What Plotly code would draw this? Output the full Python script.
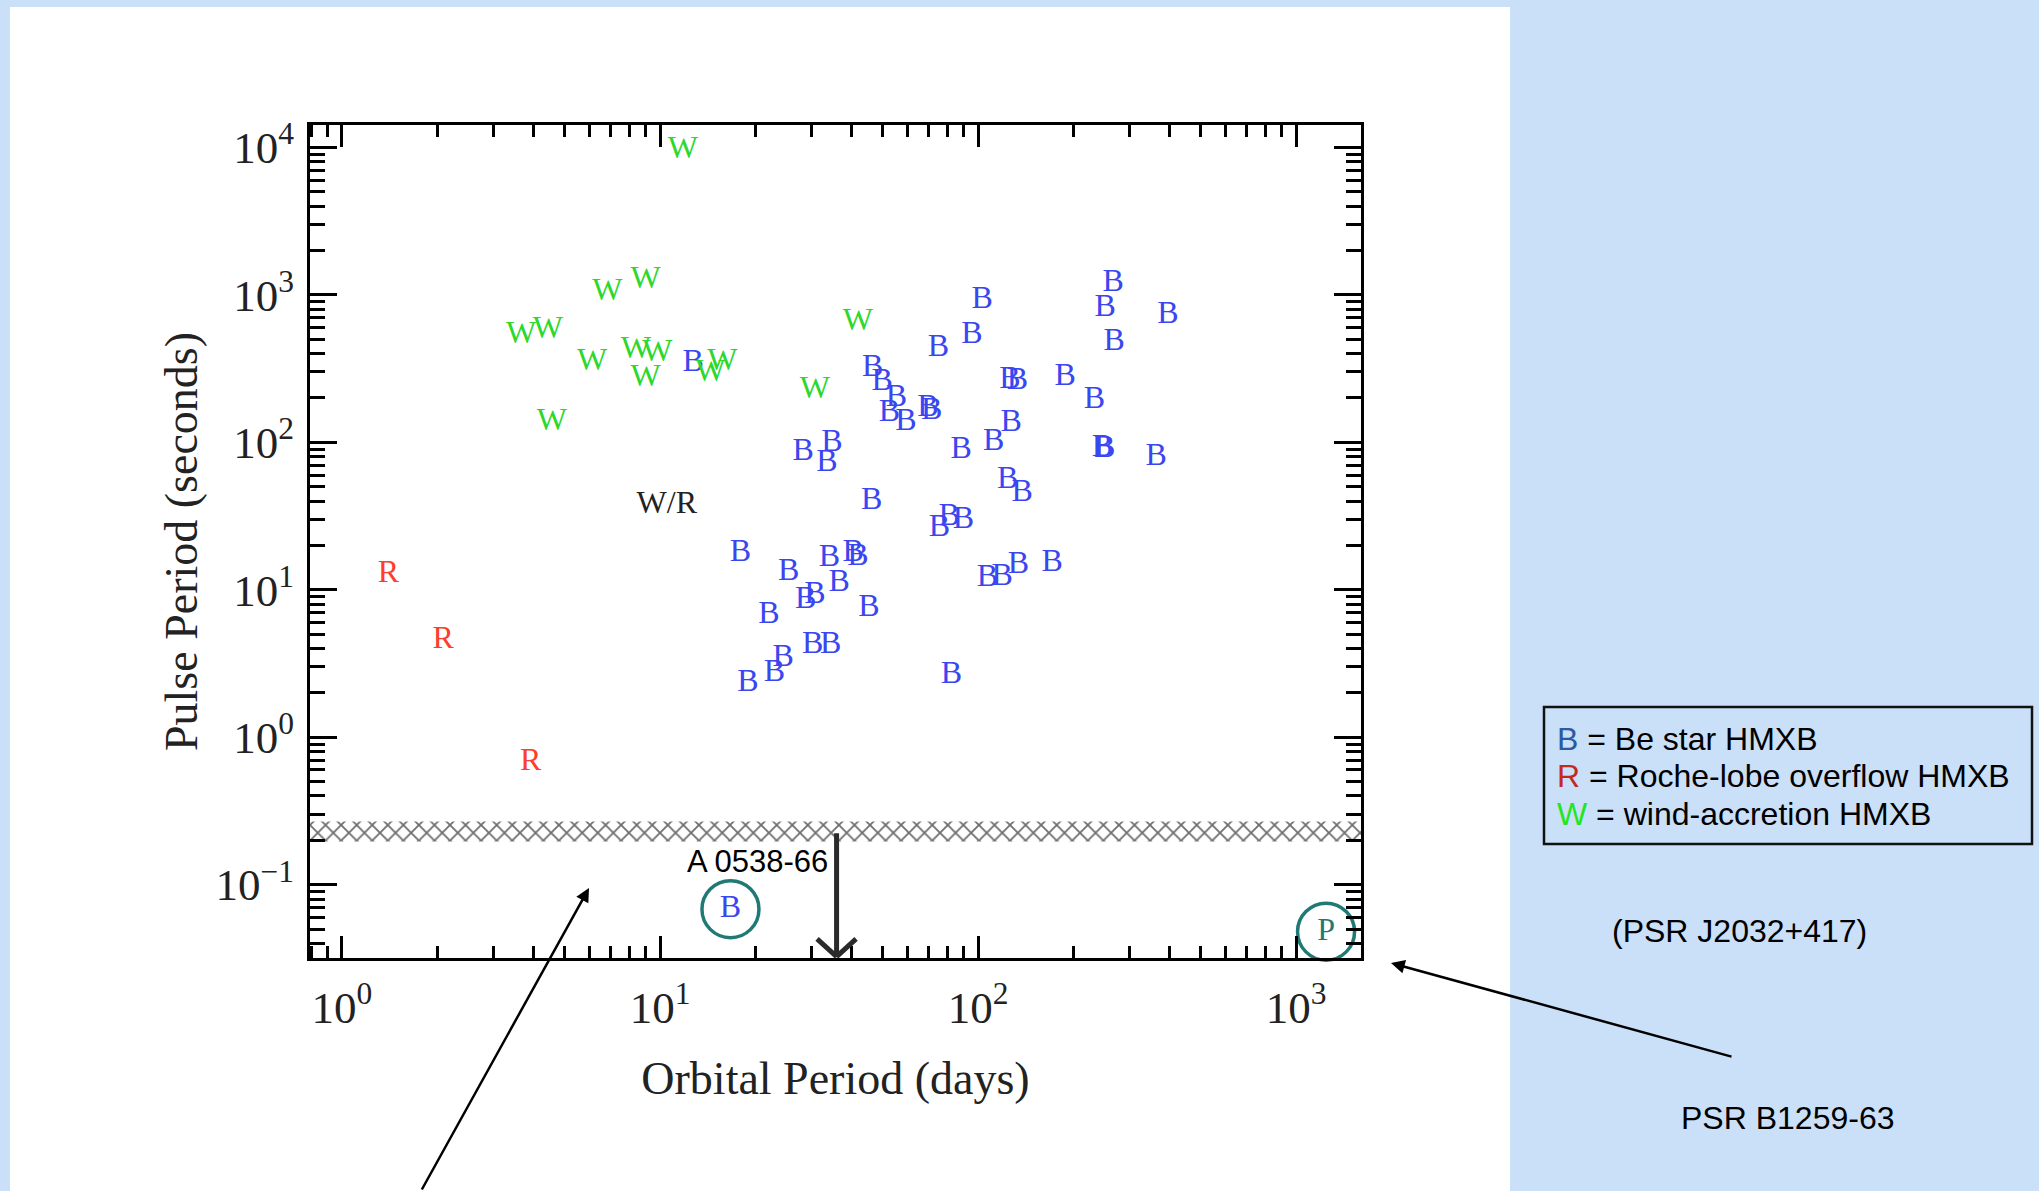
import numpy as np
import plotly.graph_objects as go

# ---------------- data ----------------
# Be-star HMXBs ("B"): orbital period (days), pulse period (s)
be_porb = [266, 103, 251, 395, 95.7, 75.1, 268, 12.7, 46.6, 49.9, 55.4, 52.6, 59.3,
           69.5, 71.5, 126, 133, 188, 232, 127, 112, 88.4, 246, 250, 363, 28.2, 34.7,
           33.5, 124, 137.5, 46.3, 75.6, 81.1, 89.9, 17.9, 25.4, 34.1, 40.5, 41.9, 36.6,
           28.7, 30.7, 45.4, 22.0, 107, 119, 134, 171, 30.2, 34.4, 24.4, 22.9, 18.9, 82.4]
be_pspin = [1200, 922, 810, 730, 534, 434, 481, 343, 318, 258, 199, 157, 138,
            170, 162, 265, 260, 278, 194, 135, 101, 88.7, 92, 90, 80, 86.4, 98.4,
            72, 55.5, 45.1, 40.2, 26.1, 31.3, 29.7, 17.7, 13.3, 16.4, 17.8, 16.7, 11.1,
            8.5, 9.2, 7.5, 6.75, 12.0, 12.3, 14.7, 15.1, 4.22, 4.22, 3.43, 2.72, 2.32, 2.65]

# wind-accretion HMXBs ("W")
w_porb = [11.8, 6.83, 9.0, 3.66, 4.44, 6.11, 8.4, 9.8, 9.0, 14.4, 15.7, 4.57, 41.9, 30.7]
w_pspin = [9600, 1050, 1260, 534, 577, 352, 423, 401, 272, 294, 352, 138, 657, 226]

# Roche-lobe overflow HMXBs ("R")
r_porb = [1.40, 2.08, 3.92]
r_pspin = [12.8, 4.57, 0.683]

# circled special systems
special_names = ["A 0538-66", "PSR B1259-63"]
special_letters = ["B", "P"]
special_porb = [16.65, 1242]
special_pspin = [0.0682, 0.048]

# "W/R" label position
wr_porb, wr_pspin = 10.5, 37.6

# hatched band (pulse period limits, s)
band_low, band_high = 0.196, 0.268
# A 0538-66 arrow (orbital period, from-band value)
arrow_porb, arrow_top = 35.9, 0.229
label_a0538_pos = (20.2, 0.1427)

# axes
x_range_log = [-0.1006, 3.204]
y_range_log = [-1.497, 4.152]
x_tickvals = [1, 10, 100, 1000]
x_ticktext = ["10<sup>0</sup>", "10<sup>1</sup>", "10<sup>2</sup>", "10<sup>3</sup>"]
y_tickvals = [0.1, 1, 10, 100, 1000, 10000]
y_ticktext = ["10<sup>\u22121</sup>", "10<sup>0</sup>", "10<sup>1</sup>",
              "10<sup>2</sup>", "10<sup>3</sup>", "10<sup>4</sup>"]

legend_lines = [("B", "#2b5a9e", " = Be star HMXB"),
                ("R", "#c42a1c", " = Roche-lobe overflow HMXB"),
                ("W", "#22e622", " = wind-accretion HMXB")]

# ---------------- styles ----------------
BLUE = "#3a46f0"
GREEN = "#2bd82b"
RED = "#ff3d2a"
TEAL = "#1f7a76"
SERIF = "Liberation Serif, Times New Roman, serif"
SANS = "Liberation Sans, Arial, sans-serif"
LETTER_SIZE = 32

fig = go.Figure()

x_min, x_max = 10 ** x_range_log[0], 10 ** x_range_log[1]
y_bottom = 10 ** y_range_log[0]

# hatched band
fig.add_trace(go.Scatter(
    x=[x_min, x_max, x_max, x_min, x_min],
    y=[band_low, band_low, band_high, band_high, band_low],
    mode="lines", fill="toself", line=dict(width=0, color="#888"),
    fillcolor="white",
    fillpattern=dict(shape="x", fgcolor="#6e6e6e", bgcolor="white", size=11, solidity=0.3),
    hoverinfo="skip"))

# circles around special systems
fig.add_trace(go.Scatter(
    x=special_porb, y=special_pspin, mode="markers",
    marker=dict(symbol="circle-open", size=57, color=TEAL, line=dict(width=3.5, color=TEAL)),
    hoverinfo="skip", cliponaxis=False))
fig.add_trace(go.Scatter(
    x=special_porb, y=special_pspin, mode="text", text=special_letters,
    textfont=dict(family=SERIF, size=LETTER_SIZE, color=[BLUE, TEAL]),
    textposition="middle center", cliponaxis=False, hovertext=special_names))

# letters
fig.add_trace(go.Scatter(x=be_porb, y=be_pspin, mode="text", text=["B"] * len(be_porb),
                         textfont=dict(family=SERIF, size=LETTER_SIZE, color=BLUE),
                         textposition="middle center", cliponaxis=False))
fig.add_trace(go.Scatter(x=w_porb, y=w_pspin, mode="text", text=["W"] * len(w_porb),
                         textfont=dict(family=SERIF, size=LETTER_SIZE, color=GREEN),
                         textposition="middle center", cliponaxis=False))
fig.add_trace(go.Scatter(x=r_porb, y=r_pspin, mode="text", text=["R"] * len(r_porb),
                         textfont=dict(family=SERIF, size=LETTER_SIZE, color=RED),
                         textposition="middle center", cliponaxis=False))
fig.add_trace(go.Scatter(x=[wr_porb], y=[wr_pspin], mode="text", text=["W/R"],
                         textfont=dict(family=SERIF, size=LETTER_SIZE, color="#222"),
                         textposition="middle center", cliponaxis=False))

# plot-area geometry in pixels for paper-coordinate conversions
L, R_, T, B_ = 310, 1361, 125, 958
W_PLOT, H_PLOT = R_ - L, B_ - T


def px(xp):
    return (xp - L) / W_PLOT


def py(yp):
    return (B_ - yp) / H_PLOT


shapes = [
    # white panel
    dict(type="rect", xref="paper", yref="paper", x0=px(10), x1=px(1510), y0=py(1200), y1=py(7),
         fillcolor="white", line=dict(width=0), layer="below"),
    # legend box
    dict(type="rect", xref="paper", yref="paper", x0=px(1544), x1=px(2032), y0=py(844), y1=py(707),
         fillcolor="rgba(0,0,0,0)", line=dict(width=2.5, color="#111")),
]

annotations = []
# A 0538-66 arrow shaft
lx = np.log10(arrow_porb)
annotations.append(dict(x=lx, y=np.log10(y_bottom) + 0.005, xref="x", yref="y",
                        ax=lx, ay=np.log10(arrow_top), axref="x", ayref="y",
                        text="", showarrow=True, arrowhead=0, arrowwidth=5, arrowcolor="#2a2a2a"))
# V-shaped head
for dx in (-21, 21):
    annotations.append(dict(x=lx, y=np.log10(y_bottom) + 0.01, xref="x", yref="y",
                            ax=dx, ay=-19, text="", showarrow=True, arrowhead=0,
                            arrowwidth=5, arrowcolor="#2a2a2a"))
# A 0538-66 label
annotations.append(dict(x=np.log10(label_a0538_pos[0]), y=np.log10(label_a0538_pos[1]),
                        xref="x", yref="y", text="A 0538-66", showarrow=False,
                        xanchor="center", yanchor="middle",
                        font=dict(family=SANS, size=31, color="black")))
# arrow from bottom-left to region under the band
annotations.append(dict(x=px(589), y=py(888), xref="paper", yref="paper", ax=-168, ay=306,
                        text="", showarrow=True, arrowhead=2, arrowsize=1.1, arrowwidth=2.5,
                        arrowcolor="black"))
# arrow from PSR B1259-63 label
annotations.append(dict(x=px(1391), y=py(963), xref="paper", yref="paper", ax=342, ay=94,
                        text="", showarrow=True, arrowhead=2, arrowsize=1.1, arrowwidth=2.5,
                        arrowcolor="black"))
# right side texts
annotations.append(dict(x=px(1739), y=py(931), xref="paper", yref="paper",
                        xanchor="center", yanchor="middle",
                        text="(PSR J2032+417)", showarrow=False,
                        font=dict(family=SANS, size=32, color="black")))
annotations.append(dict(x=px(1787), y=py(1118), xref="paper", yref="paper",
                        xanchor="center", yanchor="middle",
                        text="PSR B1259-63", showarrow=False,
                        font=dict(family=SANS, size=32, color="black")))
# legend text lines
for (letter, col, rest), yy in zip(legend_lines, [739, 776, 814]):
    annotations.append(dict(x=px(1555), y=py(yy), xref="paper", yref="paper",
                            xanchor="left", yanchor="middle",
                            text=f"<span style='color:{col}'>{letter}</span>{rest}",
                            showarrow=False, font=dict(family=SANS, size=32, color="black")))

axis_common = dict(
    type="log", showgrid=False, zeroline=False, showline=True, linewidth=3, linecolor="black",
    mirror="allticks", ticks="inside", tickwidth=3, tickcolor="black", tickmode="array",
    automargin=False,
    tickfont=dict(family=SERIF, size=45, color="#222"),
)

fig.update_layout(
    width=2039, height=1191,
    template="none",
    margin=dict(l=L, r=2039 - R_, t=T, b=1191 - B_, pad=0),
    paper_bgcolor="#cadff8", plot_bgcolor="rgba(0,0,0,0)",
    showlegend=False,
    shapes=shapes, annotations=annotations,
    xaxis=dict(**axis_common, range=x_range_log, tickvals=x_tickvals, ticktext=x_ticktext,
               ticklen=22, ticklabelstandoff=8,
               minor=dict(ticks="inside", ticklen=12, tickwidth=2.5, tickcolor="black",
                          dtick="D1", showgrid=False),
               title=dict(text="Orbital Period (days)", standoff=30,
                          font=dict(family=SERIF, size=46, color="#222"))),
    yaxis=dict(**axis_common, range=y_range_log, tickvals=y_tickvals, ticktext=y_ticktext,
               ticklen=27, ticklabelstandoff=4,
               minor=dict(ticks="inside", ticklen=15, tickwidth=2.5, tickcolor="black",
                          dtick="D1", showgrid=False),
               title=dict(text="Pulse Period (seconds)", standoff=4,
                          font=dict(family=SERIF, size=46, color="#222"))),
)

fig.write_html("out.html")
